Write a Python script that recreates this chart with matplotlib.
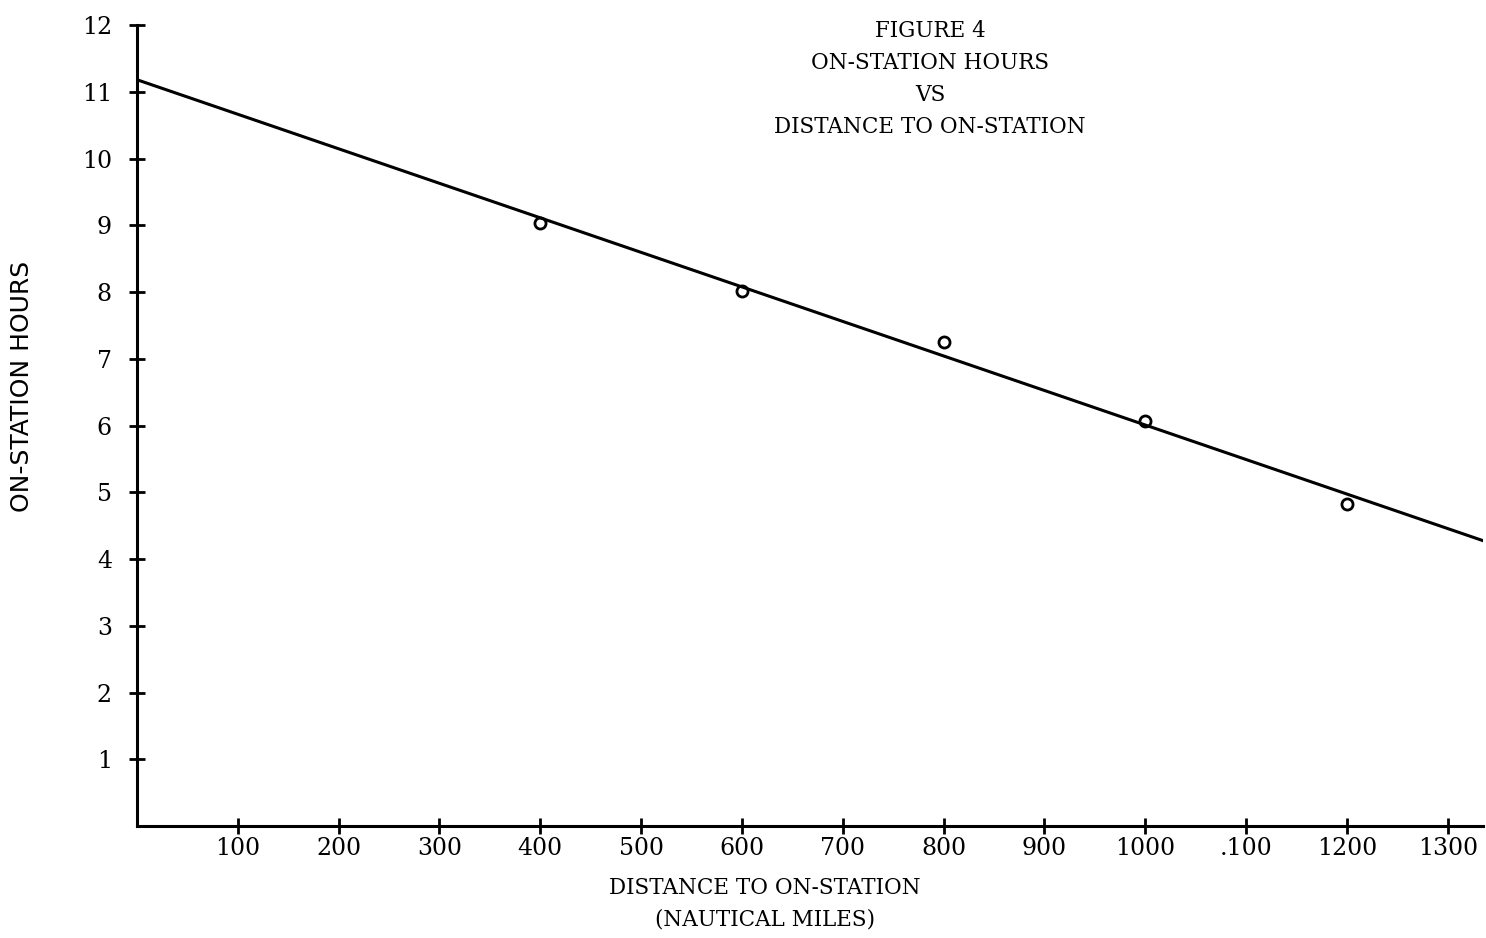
import matplotlib
matplotlib.use("Agg")
import matplotlib.pyplot as plt

# data
distance = [400, 600, 800, 1000, 1200]
hours = [9.03, 8.02, 7.25, 6.06, 4.82]

# fitted line, end points as drawn
line_x = [0, 1334]
line_y = [11.18, 4.28]

x_ticks = [100, 200, 300, 400, 500, 600, 700, 800, 900, 1000, 1100, 1200, 1300]
x_labels = ["100", "200", "300", "400", "500", "600", "700", "800", "900", "1000", ".100", "1200", "1300"]
y_ticks = [1, 2, 3, 4, 5, 6, 7, 8, 9, 10, 11, 12]

title_lines = ["FIGURE 4", "ON-STATION HOURS", "VS", "DISTANCE TO ON-STATION"]

fig = plt.figure(figsize=(14.86, 9.38), dpi=100)
ax = fig.add_axes([137 / 1486, 1 - 826 / 938, (1483 - 137) / 1486, (826 - 25) / 938])

ax.plot(line_x, line_y, color="black", lw=2.2)
ax.plot(distance, hours, "o", ms=8, mfc="none", mec="black", mew=2)

ax.set_xlim(0, 1335)
ax.set_ylim(0, 12)

for s in ["top", "right"]:
    ax.spines[s].set_visible(False)
for s in ["left", "bottom"]:
    ax.spines[s].set_linewidth(2.2)

ax.set_xticks(x_ticks)
ax.set_xticklabels(x_labels)
ax.set_yticks(y_ticks)
ax.tick_params(direction="inout", length=12, width=2, labelsize=17, pad=2)
for lab in ax.get_xticklabels() + ax.get_yticklabels():
    lab.set_family("DejaVu Serif")
ax.tick_params(axis="y", pad=12)

# titre
for i, t in enumerate(title_lines):
    fig.text(930 / 1486, 1 - (31 + i * 32) / 938, t, ha="center", va="center",
             fontsize=15.5, family="DejaVu Serif")

fig.text(765 / 1486, 1 - 888 / 938, "DISTANCE TO ON-STATION", ha="center", va="center",
         fontsize=15.5, family="DejaVu Serif")
fig.text(765 / 1486, 1 - 919 / 938, "(NAUTICAL MILES)", ha="center", va="center",
         fontsize=15.5, family="DejaVu Serif")
fig.text(22 / 1486, 1 - 386 / 938, "ON-STATION HOURS", ha="center", va="center",
         rotation=90, fontsize=18, family="DejaVu Sans")

fig.savefig("out.png", dpi=100)
